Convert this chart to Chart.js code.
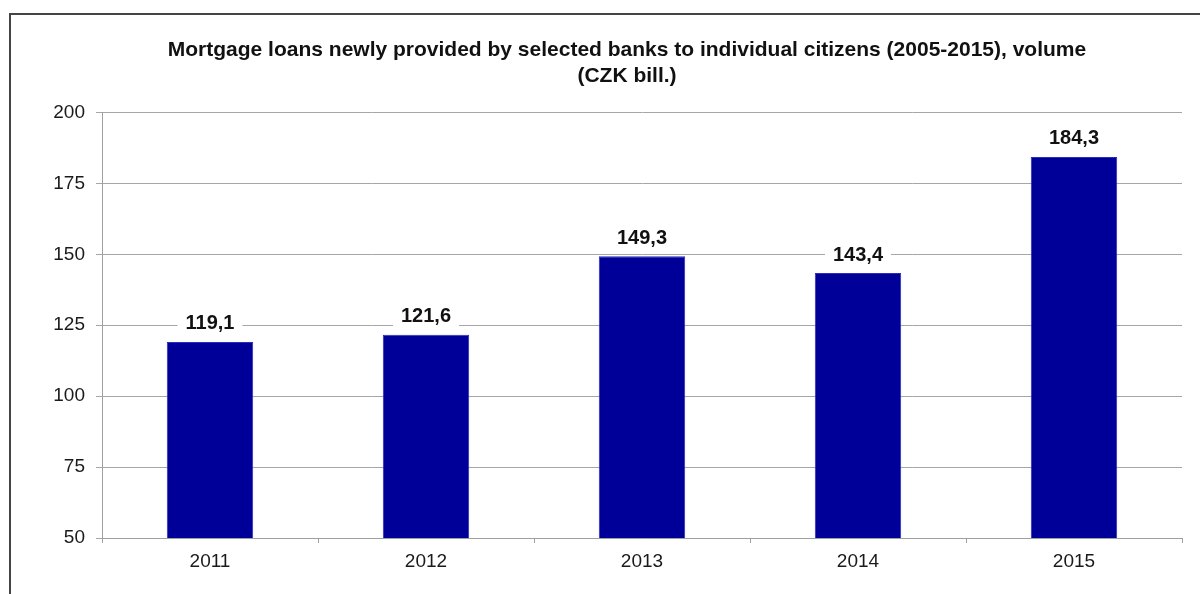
<!DOCTYPE html>
<html>
<head>
<meta charset="utf-8">
<script src="https://cdn.jsdelivr.net/npm/chart.js@4"></script>
<style>
  html, body { margin: 0; padding: 0; background: #fff; overflow: hidden; }
  #wrap { position: relative; width: 1200px; height: 594px; }
  #frame { position: absolute; left: 9px; top: 13px; width: 1400px; height: 800px;
           border-left: 2px solid #444; border-top: 2px solid #444; }
  canvas { position: absolute; left: 0; top: 0; }
</style>
</head>
<body>
<div id="wrap">
  <div id="frame"></div>
  <canvas id="chart" width="1200" height="594"></canvas>
</div>
<script>
// data
const years = ['2011', '2012', '2013', '2014', '2015']
const volumes = [119.1, 121.6, 149.3, 143.4, 184.3]
const yMin = 50
const yMax = 200
const yStep = 25
const titleLines = [
  'Mortgage loans newly provided by selected banks to individual citizens (2005-2015), volume',
  '(CZK bill.)'
]

const FONT = '"Liberation Sans", Arial, sans-serif'

// czech style decimal comma
const fmt = (v) => v.toFixed(1).replace('.', ',')

// value labels on white boxes above the bars
const valueLabels = {
  id: 'valueLabels',
  afterDatasetsDraw(chart) {
    const ctx = chart.ctx
    const meta = chart.getDatasetMeta(0)
    ctx.save()
    ctx.font = 'bold 20px ' + FONT
    ctx.textAlign = 'center'
    ctx.textBaseline = 'middle'
    meta.data.forEach((bar, i) => {
      const txt = fmt(volumes[i])
      const w = ctx.measureText(txt).width + 16
      const y = bar.y - 19
      ctx.fillStyle = '#ffffff'
      ctx.fillRect(bar.x - w / 2, y - 12, w, 24)
      ctx.fillStyle = '#111111'
      ctx.fillText(txt, bar.x, y + 1)
    })
    ctx.restore()
  }
}

const ctx = document.getElementById('chart')

new Chart(ctx, {
  type: 'bar',
  data: {
    labels: years,
    datasets: [{
      data: volumes,
      backgroundColor: '#000099',
      borderColor: '#2a2ac0',
      borderWidth: 1,
      categoryPercentage: 1,
      barPercentage: 0.4
    }]
  },
  options: {
    responsive: false,
    animation: false,
    layout: { padding: { left: 54, right: 0, top: 0, bottom: 0 } },
    plugins: {
      legend: { display: false },
      tooltip: { enabled: false },
      title: {
        display: true,
        text: titleLines,
        color: '#111111',
        font: { family: FONT, size: 21, weight: 'bold', lineHeight: 1.2 },
        padding: { top: 38, bottom: 24 }
      }
    },
    scales: {
      x: {
        offset: true,
        grid: { offset: true, drawOnChartArea: false, drawTicks: true, tickLength: 5, color: '#a0a0a0' },
        border: { color: '#a0a0a0', width: 1 },
        ticks: { color: '#1a1a1a', font: { family: FONT, size: 19 }, padding: 7 },
        afterFit: (s) => { s.height = 56 }
      },
      y: {
        min: yMin,
        max: yMax,
        ticks: { stepSize: yStep, color: '#1a1a1a', font: { family: FONT, size: 19 }, padding: 11 },
        grid: { color: '#a6a6a6', tickLength: 6 },
        border: { color: '#a0a0a0', width: 1 },
        afterFit: (s) => { s.width = 48 }
      },
      // empty axis on the right just to reserve some space
      y2: {
        position: 'right',
        display: true,
        grid: { display: false },
        ticks: { display: false },
        border: { display: false },
        afterFit: (s) => { s.width = 18 }
      }
    }
  },
  plugins: [valueLabels]
})
</script>
</body>
</html>
